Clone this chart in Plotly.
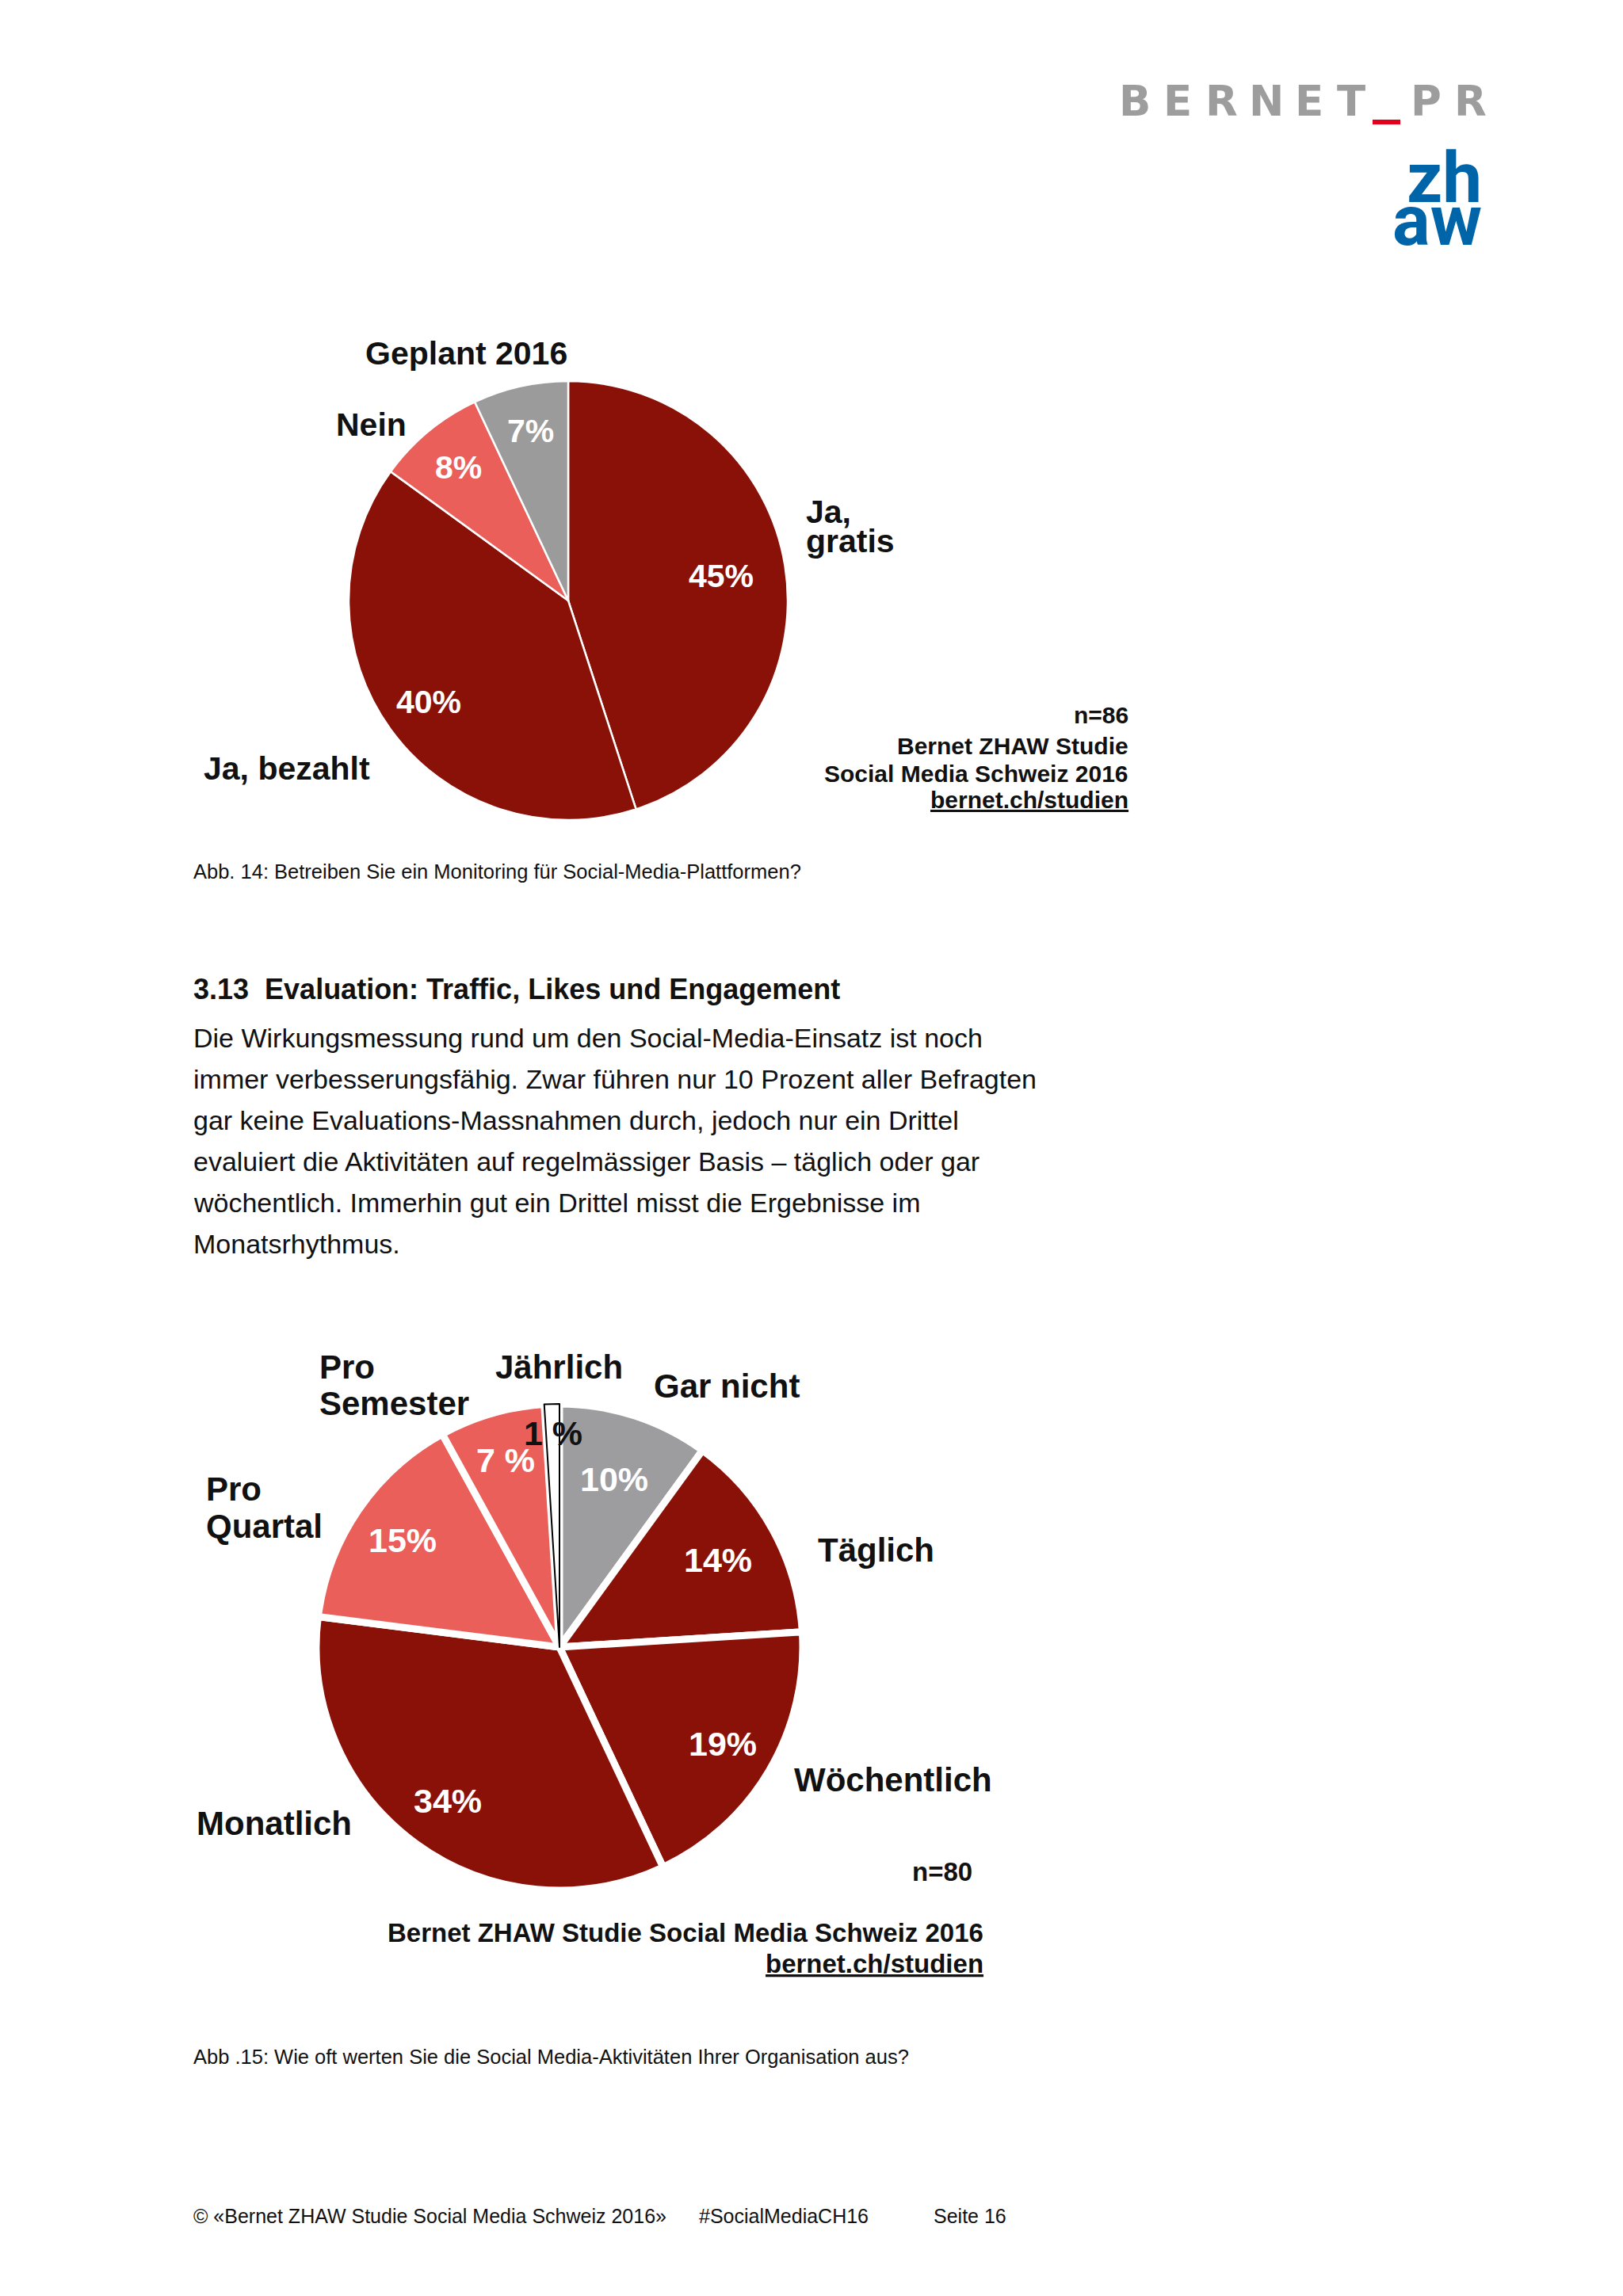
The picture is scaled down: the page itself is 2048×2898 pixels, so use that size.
import math
import plotly.graph_objects as go

# ---------------- data ----------------
pie1_labels = ["Ja, gratis", "Ja, bezahlt", "Nein", "Geplant 2016"]
pie1_values = [45, 40, 8, 7]
pie1_pct_text = ["45%", "40%", "8%", "7%"]

pie2_labels = ["Gar nicht", "Täglich", "Wöchentlich", "Monatlich", "Pro Quartal", "Pro Semester", "Jährlich"]
pie2_values = [10, 14, 19, 34, 15, 7, 1]
pie2_pct_text = ["10%", "14%", "19%", "34%", "15%", "7 %", "1 %"]

pie1_note = ["n=86", "Bernet ZHAW Studie", "Social Media Schweiz 2016", "bernet.ch/studien"]
pie2_note = ["n=80", "Bernet ZHAW Studie Social Media Schweiz 2016", "bernet.ch/studien"]

heading = "3.13  Evaluation: Traffic, Likes und Engagement"
body_lines = [
    "Die Wirkungsmessung rund um den Social-Media-Einsatz ist noch",
    "immer verbesserungsfähig. Zwar führen nur 10 Prozent aller Befragten",
    "gar keine Evaluations-Massnahmen durch, jedoch nur ein Drittel",
    "evaluiert die Aktivitäten auf regelmässiger Basis – täglich oder gar",
    "wöchentlich. Immerhin gut ein Drittel misst die Ergebnisse im",
    "Monatsrhythmus.",
]
caption1 = "Abb. 14: Betreiben Sie ein Monitoring für Social-Media-Plattformen?"
caption2 = "Abb .15: Wie oft werten Sie die Social Media-Aktivitäten Ihrer Organisation aus?"
footer = ["© «Bernet ZHAW Studie Social Media Schweiz 2016»", "#SocialMediaCH16", "Seite 16"]

# ---------------- styles / layout ----------------
W, H = 2048, 2898
DARK = "#8A1108"
SALMON = "#EA5F5A"
GREY1 = "#9B9B9B"
GREY2 = "#9D9C9F"
pie1_colors = [DARK, DARK, SALMON, GREY1]
pie2_colors = [GREY2, DARK, DARK, DARK, SALMON, SALMON, "#FFFFFF"]

BOLD = "Liberation Sans"

P1C = (717, 758)
P1R = 277
P2C = (706, 2079)
P2R = 307

fig = go.Figure()


def domain(c, r):
    return dict(x=[(c[0] - r) / W, (c[0] + r) / W],
                y=[1 - (c[1] + r) / H, 1 - (c[1] - r) / H])


fig.add_trace(go.Pie(
    labels=pie1_labels, values=pie1_values, sort=False, direction="clockwise",
    rotation=0, textinfo="none", hoverinfo="label+percent",
    marker=dict(colors=pie1_colors, line=dict(color="white", width=2.5)),
    domain=domain(P1C, P1R), showlegend=False,
))

fig.add_trace(go.Pie(
    labels=pie2_labels, values=pie2_values, sort=False, direction="clockwise",
    rotation=0, textinfo="none", hoverinfo="label+percent",
    marker=dict(colors=pie2_colors,
                line=dict(color=["white"] * 6 + ["black"], width=[9] * 6 + [2])),
    domain=domain(P2C, P2R), showlegend=False,
))


def txt(text, x, y, size, family=BOLD, color="#111111", xanchor="left", weight="normal"):
    fig.add_annotation(x=x / W, y=1 - y / H, xref="paper", yref="paper", text=text,
                       showarrow=False, xanchor=xanchor, yanchor="middle",
                       font=dict(family=family, size=size, color=color, weight=weight))


def pct_labels(values, texts, center, r, fracs, size, colors):
    total = sum(values)
    cum = 0
    for v, t, f, col in zip(values, texts, fracs, colors):
        ang = 2 * math.pi * (cum + v / 2) / total
        cum += v
        x = center[0] + f * r * math.sin(ang)
        y = center[1] - f * r * math.cos(ang)
        txt(t, x, y, size, color=col, xanchor="center", weight="bold")


# percentage labels
pct_labels(pie1_values, pie1_pct_text, P1C, 277, [0.705, 0.786, 0.787, 0.79], 41, ["white"] * 4)
pct_labels(pie2_values, pie2_pct_text, P2C, 303, [0.736, 0.755, 0.79, 0.79, 0.79, 0.81, 0.89],
           43, ["white"] * 6 + ["#111111"])

# pie 1 category labels
txt("Geplant 2016", 588, 446, 41, xanchor="center", weight="bold")
txt("Nein", 468, 536, 41, xanchor="center", weight="bold")
txt("Ja,", 1015, 646, 41, weight="bold")
txt("gratis", 1015, 683, 41, weight="bold")
txt("Ja, bezahlt", 255, 970, 41, weight="bold")

# pie 1 note
for line, yy in zip(pie1_note, [902, 941, 976, 1010]):
    t = "<u>" + line + "</u>" if "bernet.ch" in line else line
    txt(t, 1426, yy, 30, xanchor="right", weight="bold")

txt(caption1, 242, 1100, 25.5, family=BOLD)

# heading and body
txt(heading, 242, 1248, 36, family=BOLD, weight="bold")
for line, yy in zip(body_lines, [1310, 1362, 1414, 1466, 1518, 1570]):
    txt(line, 242, yy, 34, family=BOLD)

# pie 2 category labels
txt("Pro", 401, 1725, 42, weight="bold")
txt("Semester", 401, 1771, 42, weight="bold")
txt("Jährlich", 623, 1725, 42, weight="bold")
txt("Gar nicht", 823, 1749, 42, weight="bold")
txt("Pro", 258, 1879, 42, weight="bold")
txt("Quartal", 258, 1926, 42, weight="bold")
txt("Täglich", 1030, 1956, 42, weight="bold")
txt("Wöchentlich", 1000, 2246, 42, weight="bold")
txt("Monatlich", 246, 2301, 42, weight="bold")

for line, yy in zip(pie2_note, [2362, 2439, 2478]):
    t = "<u>" + line + "</u>" if "bernet.ch" in line else line
    xr = 1229 if line.startswith("n=") else 1243
    txt(t, xr, yy, 33, xanchor="right", weight="bold")

txt(caption2, 242, 2596, 25.5, family=BOLD)

# footer
for t, xx in zip(footer, [242, 880, 1176]):
    txt(t, xx, 2797, 25, family=BOLD)

# logo BERNET_PR
for ch, xx in zip("BERNETPR", [1432, 1486, 1541, 1598, 1652, 1705, 1799, 1855]):
    txt(ch, xx, 127, 53, family="DejaVu Sans", color="#9D9D9D", xanchor="center", weight="bold")
fig.add_shape(type="rect", xref="paper", yref="paper",
              x0=1732 / W, x1=1767 / W, y0=1 - 157 / H, y1=1 - 151 / H,
              fillcolor="#E2001A", line=dict(width=0))

# logo zhaw
txt("zh", 1872, 224, 89, family="Roboto", color="#0064A8", xanchor="right", weight="bold")
txt("aw", 1872, 278, 89, family="Roboto", color="#0064A8", xanchor="right", weight="bold")

fig.update_layout(
    width=W, height=H, autosize=False,
    margin=dict(l=0, r=0, t=0, b=0),
    paper_bgcolor="white", plot_bgcolor="white",
    showlegend=False,
)

fig.write_html("out.html", config={"displayModeBar": False},
               post_script="document.body.style.margin='0';")
